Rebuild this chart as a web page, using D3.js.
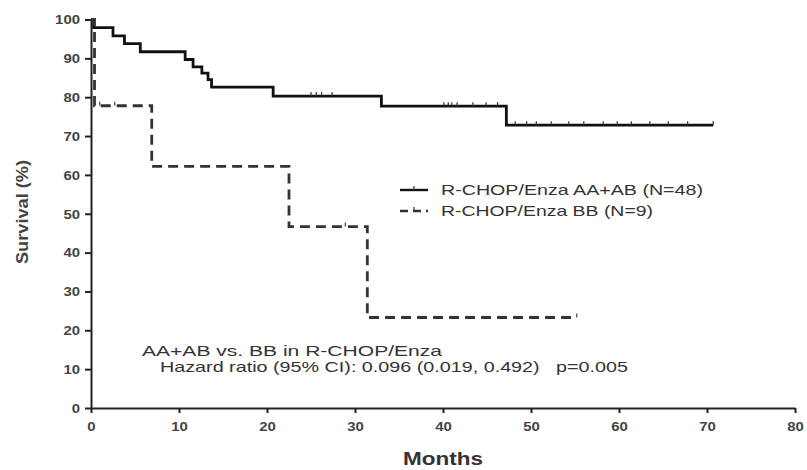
<!DOCTYPE html>
<html>
<head>
<meta charset="utf-8">
<script src="https://cdn.jsdelivr.net/npm/d3@7"></script>
<style>
  body { margin: 0; background: #fff; }
  svg { display: block; font-family: "Liberation Sans", Arial, sans-serif; }
</style>
</head>
<body>
<svg id="chart" width="807" height="470"></svg>
<script>
// Kaplan-Meier steps (months, survival %)
const solidTimes = [0, 0.3, 2.5, 3.8, 5.6, 10.7, 11.6, 12.6, 13.3, 13.7, 20.7, 33.0, 47.2, 70.7];
const solidSurv  = [100, 97.9, 95.8, 93.8, 91.7, 89.7, 87.8, 86.2, 84.5, 82.6, 80.3, 77.7, 72.8, 72.8];
const solidCensor = [25.0, 25.6, 26.2, 27.4, 40.1, 40.6, 41.0, 41.6, 43.4, 44.9, 46.2,
  48.2, 49.5, 50.6, 52.3, 54.3, 56.0, 58.2, 59.8, 61.4, 63.5, 65.6, 67.8, 70.7];

const dashedTimes = [0, 0.4, 6.9, 22.5, 31.4, 55.2];
const dashedSurv  = [100, 77.8, 62.2, 46.7, 23.3, 23.3];
const dashedCensor = [1.0, 2.7, 28.9, 55.2];

const xTicks = [0, 10, 20, 30, 40, 50, 60, 70, 80];
const yTicks = [0, 10, 20, 30, 40, 50, 60, 70, 80, 90, 100];

const legendLabels = ["R-CHOP/Enza AA+AB (N=48)", "R-CHOP/Enza BB (N=9)"];
const noteLines = ["AA+AB vs. BB in R-CHOP/Enza",
  "Hazard ratio (95% CI): 0.096 (0.019, 0.492)   p=0.005"];

const svg = d3.select("#chart");
const x = d3.scaleLinear().domain([0, 80]).range([91, 795]);
const y = d3.scaleLinear().domain([0, 100]).range([408, 19.5]);

// the source figure is stretched sideways, so text is widened to fit
const widen = (sel, px) => sel.attr("textLength", px).attr("lengthAdjust", "spacingAndGlyphs");

// axes
const xAxis = svg.append("g")
  .attr("transform", `translate(0,${y(0)})`)
  .call(d3.axisBottom(x).tickValues(xTicks).tickSize(5).tickSizeOuter(0).tickPadding(8));
const yAxis = svg.append("g")
  .attr("transform", `translate(${x(0)},0)`)
  .call(d3.axisLeft(y).tickValues(yTicks).tickSize(6).tickSizeOuter(0).tickPadding(5));

[xAxis, yAxis].forEach(a => {
  a.select(".domain").attr("stroke", "#222").attr("stroke-width", 2);
  a.selectAll(".tick line").attr("stroke", "#222").attr("stroke-width", 2);
  a.selectAll(".tick text")
    .attr("fill", "#444")
    .style("font-size", "13.5px")
    .style("font-weight", "bold")
    .style("font-family", "Liberation Sans, Arial, sans-serif")
    .each(function(d) { widen(d3.select(this), String(d).length * 8.3); });
});

// curves
const stepLine = d3.line()
  .x(d => x(d[0]))
  .y(d => y(d[1]))
  .curve(d3.curveStepAfter);

const solidData = solidTimes.map((t, i) => [t, solidSurv[i]]);
const dashedData = dashedTimes.map((t, i) => [t, dashedSurv[i]]);

svg.append("path")
  .datum(solidData)
  .attr("fill", "none")
  .attr("stroke", "#111")
  .attr("stroke-width", 2.8)
  .attr("d", stepLine);

svg.append("path")
  .datum(dashedData)
  .attr("fill", "none")
  .attr("stroke", "#333")
  .attr("stroke-width", 2.8)
  .attr("stroke-dasharray", "10,6")
  .attr("d", stepLine);

// censor ticks
const survAt = (times, surv, t) => {
  let v = surv[0];
  times.forEach((tt, i) => { if (tt <= t) v = surv[i]; });
  return v;
};
svg.append("g").selectAll("line")
  .data(solidCensor)
  .join("line")
  .attr("x1", d => x(d)).attr("x2", d => x(d))
  .attr("y1", d => y(survAt(solidTimes, solidSurv, d)) - 4)
  .attr("y2", d => y(survAt(solidTimes, solidSurv, d)))
  .attr("stroke", "#333").attr("stroke-width", 1.2);
svg.append("g").selectAll("line")
  .data(dashedCensor)
  .join("line")
  .attr("x1", d => x(d)).attr("x2", d => x(d))
  .attr("y1", d => y(survAt(dashedTimes, dashedSurv, d)) - 4)
  .attr("y2", d => y(survAt(dashedTimes, dashedSurv, d)))
  .attr("stroke", "#444").attr("stroke-width", 1.2);

// axis titles
widen(svg.append("text")
  .attr("transform", "translate(28,212) rotate(-90)")
  .attr("text-anchor", "middle")
  .attr("fill", "#444")
  .style("font-size", "16px")
  .style("font-weight", "bold")
  .text("Survival (%)"), 104);

widen(svg.append("text")
  .attr("x", 443).attr("y", 465)
  .attr("text-anchor", "middle")
  .attr("fill", "#333")
  .style("font-size", "18px")
  .style("font-weight", "bold")
  .text("Months"), 80);

// legend
const legendWidths = [262, 212];
const legend = svg.append("g");
legendLabels.forEach((lab, i) => {
  const ly = 190 + i * 21;
  legend.append("line")
    .attr("x1", 400).attr("x2", 428).attr("y1", ly).attr("y2", ly)
    .attr("stroke", i === 0 ? "#111" : "#333")
    .attr("stroke-width", 2.4)
    .attr("stroke-dasharray", i === 0 ? null : "8,5");
  legend.append("line")
    .attr("x1", 414).attr("x2", 414).attr("y1", ly - 4).attr("y2", ly)
    .attr("stroke", "#333").attr("stroke-width", 1.2);
  widen(legend.append("text")
    .attr("x", 441).attr("y", ly + 5)
    .attr("fill", "#333")
    .style("font-size", "14.5px")
    .text(lab), legendWidths[i]);
});

// annotation
const noteX = [142, 160];
const noteWidths = [300, 468];
noteLines.forEach((line, i) => {
  widen(svg.append("text")
    .attr("x", noteX[i])
    .attr("y", 356 + i * 16)
    .attr("fill", "#333")
    .style("font-size", "14.5px")
    .style("white-space", "pre")
    .attr("xml:space", "preserve")
    .text(line), noteWidths[i]);
});
</script>
</body>
</html>
